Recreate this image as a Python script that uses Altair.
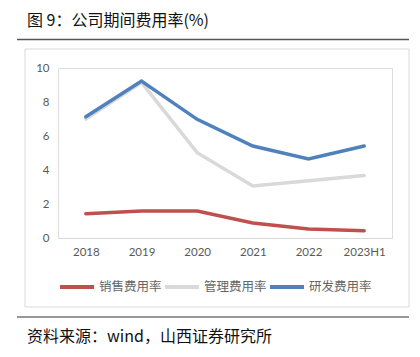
import altair as alt
import pandas as pd

years = ["2018", "2019", "2020", "2021", "2022", "2023H1"]
sales = [1.43, 1.59, 1.59, 0.88, 0.53, 0.43]
admin = [7.0, 9.15, 5.02, 3.06, 3.37, 3.67]
rnd = [7.13, 9.23, 6.98, 5.41, 4.65, 5.41]
series = ["销售费用率", "管理费用率", "研发费用率"]
colors = ["#C0504D", "#D9D9D9", "#4F81BD"]

rows = []
for name, vals in zip(series, [sales, admin, rnd]):
    for i, (y, v) in enumerate(zip(years, vals)):
        rows.append({"year": y, "value": v, "series": name, "order": series.index(name)})
df = pd.DataFrame(rows)

one = pd.DataFrame({"a": [0]})
FONT = "Noto Sans CJK SC"

lines = alt.Chart(df).mark_line(strokeWidth=3.5, strokeCap="round").encode(
    x=alt.X("year:N", sort=years, scale=alt.Scale(padding=0.5),
            axis=alt.Axis(title=None, labelAngle=0, ticks=False, domainColor="#D9D9D9",
                          labelColor="#595959", labelFont="Lato", labelFontSize=11.5,
                          labelPadding=8, grid=False)),
    y=alt.Y("value:Q", scale=alt.Scale(domain=[0, 10]),
            axis=alt.Axis(title=None, values=[0, 2, 4, 6, 8, 10], grid=False, domain=False,
                          ticks=False, labelColor="#595959", labelFont="Lato",
                          labelFontSize=11.5, labelPadding=9)),
    color=alt.Color("series:N", scale=alt.Scale(domain=series, range=colors),
                    legend=alt.Legend(title=None, orient="none", legendX=0, legendY=200,
                                      direction="horizontal", symbolType="stroke",
                                      symbolSize=1156, symbolStrokeWidth=4,
                                      labelFont=FONT, labelFontSize=12.5, labelColor="#666666",
                                      columnPadding=-5, labelOffset=3)),
    order=alt.Order("order:Q"),
    detail="series:N",
)

box = alt.Chart(one).mark_rect(fill=None, stroke="#D9D9D9", strokeWidth=1).encode(
    x=alt.value(-33), x2=alt.value(351), y=alt.value(-19), y2=alt.value(239))
top_rule = alt.Chart(one).mark_rule(color="#555555", strokeWidth=1.5).encode(
    x=alt.value(-41), x2=alt.value(351), y=alt.value(-28.5))
bot_rule = alt.Chart(one).mark_rule(color="#333333", strokeWidth=1.2).encode(
    x=alt.value(-41), x2=alt.value(351), y=alt.value(249))
title = alt.Chart(one).mark_text(text="图 9：公司期间费用率(%)", font=FONT, fontSize=16,
                                 align="left", baseline="middle", color="#111111").encode(
    x=alt.value(-31), y=alt.value(-47))
source = alt.Chart(one).mark_text(text="资料来源：wind，山西证券研究所", font=FONT, fontSize=16,
                                  align="left", baseline="middle", color="#111111").encode(
    x=alt.value(-31), y=alt.value(269))

chart = alt.layer(box, top_rule, bot_rule, title, source, lines).properties(
    width=334, height=170,
    autosize=alt.AutoSizeParams(type="none"),
    padding={"left": 50, "top": 60, "right": 20, "bottom": 111},
).configure_view(stroke=None).configure(background="white")

chart.save("out.html", embed_options={"renderer": "svg", "actions": False})
